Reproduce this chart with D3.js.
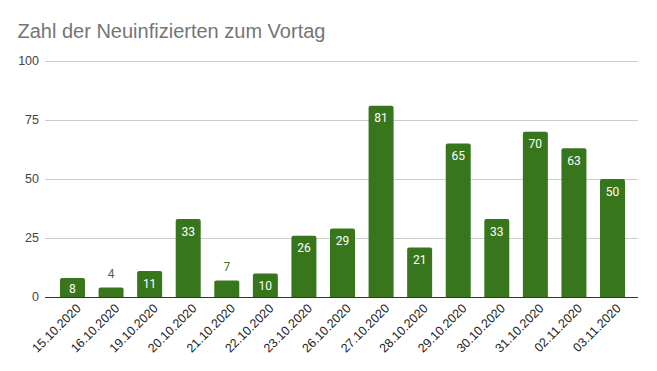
<!DOCTYPE html>
<html><head><meta charset="utf-8">
<script src="https://cdn.jsdelivr.net/npm/d3@7"></script>
<style>body{margin:0;background:#fff;} svg{display:block;font-family:"Liberation Sans",Arial,sans-serif;}</style>
</head><body>
<script>
const categories = ["15.10.2020","16.10.2020","19.10.2020","20.10.2020","21.10.2020","22.10.2020","23.10.2020","26.10.2020","27.10.2020","28.10.2020","29.10.2020","30.10.2020","31.10.2020","02.11.2020","03.11.2020"];
const values = [8,4,11,33,7,10,26,29,81,21,65,33,70,63,50];
const yTicks = [0,25,50,75,100];
const title = "Zahl der Neuinfizierten zum Vortag";

const W = 657, H = 371;
const svg = d3.select("body").append("svg").attr("width", W).attr("height", H);
const color = "#38761d";

const x = d3.scaleBand().domain(categories).range([53.2, 631.8]).paddingInner(0.352).paddingOuter(0.176);
const y = d3.scaleLinear().domain([0,100]).range([297, 61]);

svg.append("text").attr("x", 17.5).attr("y", 38).attr("font-size", 20).attr("fill", "#757575").text(title);

// gridlines
svg.append("g").selectAll("line").data(yTicks.filter(d => d > 0)).join("line")
  .attr("x1", 45).attr("x2", 638).attr("y1", d => y(d)).attr("y2", d => y(d))
  .attr("stroke", "#cccccc").attr("stroke-width", 1).attr("shape-rendering","crispEdges");

// y tick labels
svg.append("g").selectAll("text").data(yTicks).join("text")
  .attr("x", 39).attr("y", d => y(d)).attr("dy", "0.35em").attr("text-anchor", "end")
  .attr("font-size", 12.5).attr("fill", "#444").text(d => d);

// bars with rounded top corners
const r = 2;
function barPath(d, i) {
  const x0 = x(categories[i]), w = x.bandwidth(), y0 = y(d), y1 = y(0);
  return `M${x0},${y1}V${y0 + r}Q${x0},${y0} ${x0 + r},${y0}H${x0 + w - r}Q${x0 + w},${y0} ${x0 + w},${y0 + r}V${y1}Z`;
}
svg.append("g").selectAll("path").data(values).join("path")
  .attr("d", barPath).attr("fill", color);

// baseline
svg.append("line").attr("x1", 45).attr("x2", 638).attr("y1", y(0)).attr("y2", y(0))
  .attr("stroke", "#333").attr("stroke-width", 1).attr("shape-rendering","crispEdges");

// value labels
svg.append("g").selectAll("text").data(values).join("text")
  .attr("x", (d, i) => x(categories[i]) + x.bandwidth() / 2)
  .attr("y", d => {
    const top = y(d), h = y(0) - top;
    if (h < 18) return top - 14;
    return Math.min(top + 12.3, (top + y(0)) / 2 + 1);
  })
  .attr("dy", "0.35em").attr("text-anchor", "middle").attr("font-size", 12)
  .attr("font-family", "Roboto, sans-serif")
  .attr("fill", d => (y(0) - y(d) < 18) ? color : "#ffffff")
  .text(d => d);

// x labels rotated
svg.append("g").selectAll("text").data(categories).join("text")
  .attr("transform", d => `translate(${x(d) + x.bandwidth() / 2 + 6},${306}) rotate(-45)`)
  .attr("text-anchor", "end").attr("dy", "0.35em")
  .attr("font-size", 12.5).attr("fill", "#222").text(d => d);
</script>
</body></html>
